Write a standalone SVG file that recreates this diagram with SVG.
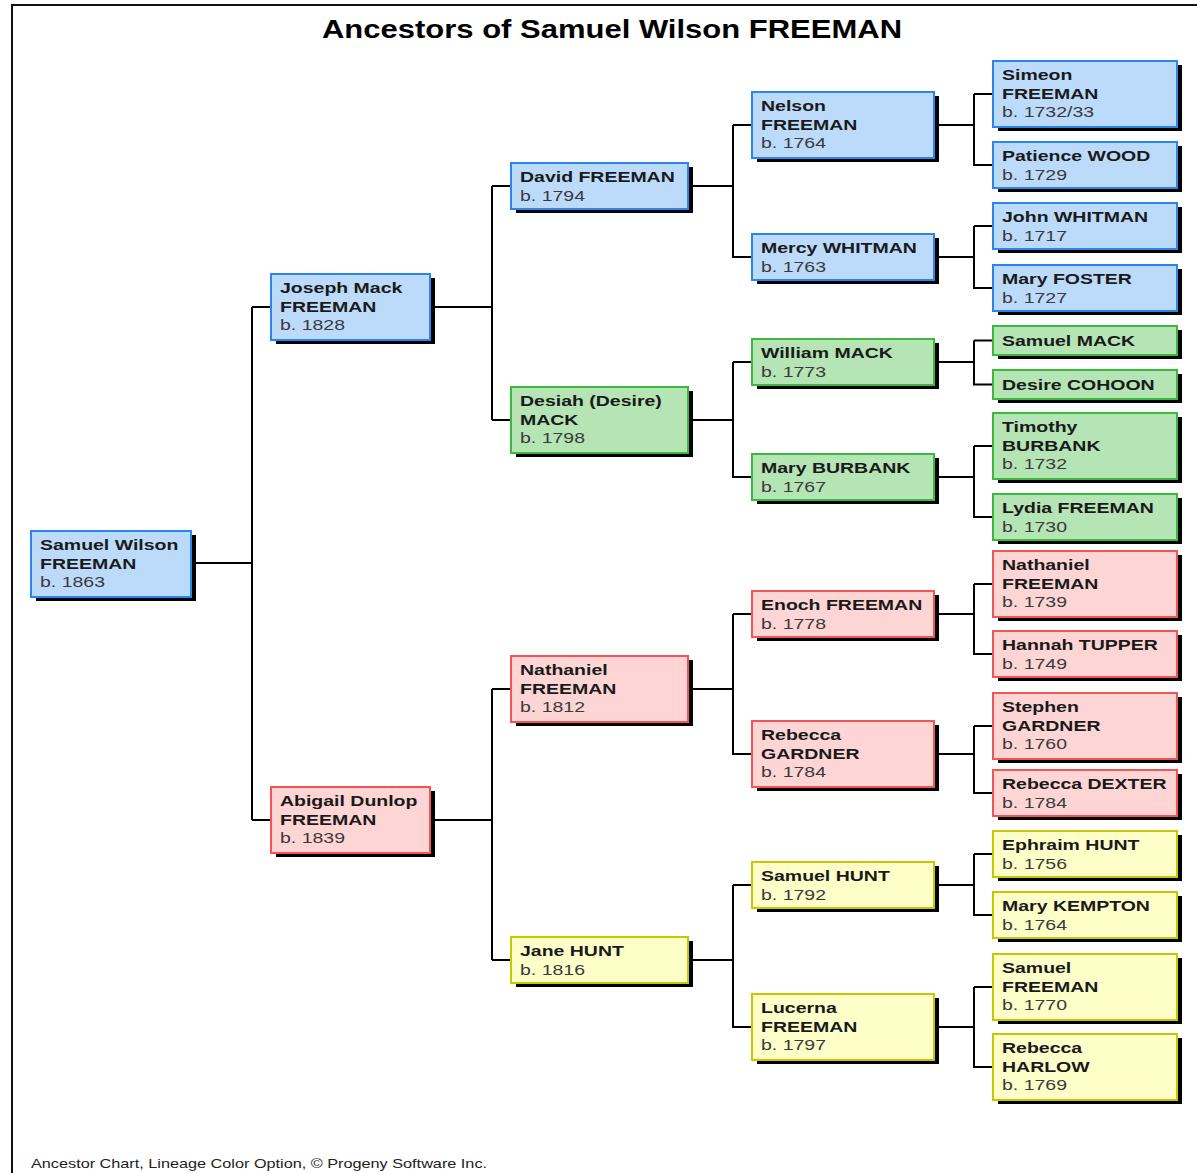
<svg xmlns="http://www.w3.org/2000/svg" width="1197" height="1173" viewBox="0 0 1197 1173">
<style>
.sh{fill:#000}
.b{fill:#bcdbfa;stroke:#2a86ee;stroke-width:2}
.g{fill:#b5e4b5;stroke:#3cb83c;stroke-width:2}
.r{fill:#fdd5d5;stroke:#f25555;stroke-width:2}
.y{fill:#fefec9;stroke:#c8c800;stroke-width:2}
text{font-family:"Liberation Sans",Arial,sans-serif;font-size:15px}
.n{font-weight:bold;fill:#1a1a1a}
.d{fill:#3a3a3a}
.con{fill:none;stroke:#000;stroke-width:2}
</style>
<rect x="0" y="0" width="1197" height="1173" fill="#fff"/>
<path d="M12 1173 V5 H1197" fill="none" stroke="#111" stroke-width="2"/>
<text id="title" transform="translate(612,38) scale(1.24,1)" text-anchor="middle" style="font-size:25px;font-weight:bold;fill:#000">Ancestors of Samuel Wilson FREEMAN</text>
<text id="footer" transform="translate(31,1168) scale(1.25,1)" style="font-size:13px;fill:#222">Ancestor Chart, Lineage Color Option, © Progeny Software Inc.</text>
<g id="connectors" class="con">
<path d="M191 563 H252 M252 307 V820 M252 307 H271 M252 820 H271"/>
<path d="M430 307 H492 M492 186 V420 M492 186 H511 M492 420 H511"/>
<path d="M430 820 H492 M492 689 V960 M492 689 H511 M492 960 H511"/>
<path d="M688 186 H733 M733 125 V257 H752 M733 125 H752"/>
<path d="M688 420 H733 M733 362 V477 H752 M733 362 H752"/>
<path d="M688 689 H733 M733 614 V754 H752 M733 614 H752"/>
<path d="M688 960 H733 M733 885 V1027 H752 M733 885 H752"/>
<path d="M934 125 H974 M974 94 V165 H993 M974 94 H993"/>
<path d="M934 257 H974 M974 226 V288 H993 M974 226 H993"/>
<path d="M934 362 H974 M974 340.5 V384.5 H993 M974 340.5 H993"/>
<path d="M934 477 H974 M974 446 V517 H993 M974 446 H993"/>
<path d="M934 614 H974 M974 584 V654 H993 M974 584 H993"/>
<path d="M934 754 H974 M974 726 V793 H993 M974 726 H993"/>
<path d="M934 885 H974 M974 854 V915 H993 M974 854 H993"/>
<path d="M934 1027 H974 M974 987 V1067 H993 M974 987 H993"/>
</g>
<g id="n-samuel-wilson"><rect class="sh" x="36" y="535" width="160" height="66"/><rect class="b" x="31" y="531" width="160" height="66"/><text transform="translate(40,550) scale(1.3,1)"><tspan class="n" x="0">Samuel Wilson</tspan><tspan class="n" x="0" dy="18.7">FREEMAN</tspan><tspan class="d" x="0" dy="18.7">b. 1863</tspan></text></g>
<g id="n-joseph"><rect class="sh" x="276" y="278" width="159" height="66"/><rect class="b" x="271" y="274" width="159" height="66"/><text transform="translate(280,293) scale(1.3,1)"><tspan class="n" x="0">Joseph Mack</tspan><tspan class="n" x="0" dy="18.7">FREEMAN</tspan><tspan class="d" x="0" dy="18.7">b. 1828</tspan></text></g>
<g id="n-abigail"><rect class="sh" x="276" y="791" width="159" height="66"/><rect class="r" x="271" y="787" width="159" height="66"/><text transform="translate(280,806) scale(1.3,1)"><tspan class="n" x="0">Abigail Dunlop</tspan><tspan class="n" x="0" dy="18.7">FREEMAN</tspan><tspan class="d" x="0" dy="18.7">b. 1839</tspan></text></g>
<g id="n-david"><rect class="sh" x="516" y="167" width="177" height="46"/><rect class="b" x="511" y="163" width="177" height="46"/><text transform="translate(520,182) scale(1.3,1)"><tspan class="n" x="0">David FREEMAN</tspan><tspan class="d" x="0" dy="18.7">b. 1794</tspan></text></g>
<g id="n-desiah"><rect class="sh" x="516" y="391" width="177" height="66"/><rect class="g" x="511" y="387" width="177" height="66"/><text transform="translate(520,406) scale(1.3,1)"><tspan class="n" x="0">Desiah (Desire)</tspan><tspan class="n" x="0" dy="18.7">MACK</tspan><tspan class="d" x="0" dy="18.7">b. 1798</tspan></text></g>
<g id="n-nathaniel-1812"><rect class="sh" x="516" y="660" width="177" height="66"/><rect class="r" x="511" y="656" width="177" height="66"/><text transform="translate(520,675) scale(1.3,1)"><tspan class="n" x="0">Nathaniel</tspan><tspan class="n" x="0" dy="18.7">FREEMAN</tspan><tspan class="d" x="0" dy="18.7">b. 1812</tspan></text></g>
<g id="n-jane"><rect class="sh" x="516" y="941" width="177" height="46"/><rect class="y" x="511" y="937" width="177" height="46"/><text transform="translate(520,956) scale(1.3,1)"><tspan class="n" x="0">Jane HUNT</tspan><tspan class="d" x="0" dy="18.7">b. 1816</tspan></text></g>
<g id="n-nelson"><rect class="sh" x="757" y="96" width="182" height="66"/><rect class="b" x="752" y="92" width="182" height="66"/><text transform="translate(761,111) scale(1.3,1)"><tspan class="n" x="0">Nelson</tspan><tspan class="n" x="0" dy="18.7">FREEMAN</tspan><tspan class="d" x="0" dy="18.7">b. 1764</tspan></text></g>
<g id="n-mercy"><rect class="sh" x="757" y="238" width="182" height="46"/><rect class="b" x="752" y="234" width="182" height="46"/><text transform="translate(761,253) scale(1.3,1)"><tspan class="n" x="0">Mercy WHITMAN</tspan><tspan class="d" x="0" dy="18.7">b. 1763</tspan></text></g>
<g id="n-william"><rect class="sh" x="757" y="343" width="182" height="46"/><rect class="g" x="752" y="339" width="182" height="46"/><text transform="translate(761,358) scale(1.3,1)"><tspan class="n" x="0">William MACK</tspan><tspan class="d" x="0" dy="18.7">b. 1773</tspan></text></g>
<g id="n-mary-burbank"><rect class="sh" x="757" y="458" width="182" height="46"/><rect class="g" x="752" y="454" width="182" height="46"/><text transform="translate(761,473) scale(1.3,1)"><tspan class="n" x="0">Mary BURBANK</tspan><tspan class="d" x="0" dy="18.7">b. 1767</tspan></text></g>
<g id="n-enoch"><rect class="sh" x="757" y="595" width="182" height="46"/><rect class="r" x="752" y="591" width="182" height="46"/><text transform="translate(761,610) scale(1.3,1)"><tspan class="n" x="0">Enoch FREEMAN</tspan><tspan class="d" x="0" dy="18.7">b. 1778</tspan></text></g>
<g id="n-rebecca-gardner"><rect class="sh" x="757" y="725" width="182" height="66"/><rect class="r" x="752" y="721" width="182" height="66"/><text transform="translate(761,740) scale(1.3,1)"><tspan class="n" x="0">Rebecca</tspan><tspan class="n" x="0" dy="18.7">GARDNER</tspan><tspan class="d" x="0" dy="18.7">b. 1784</tspan></text></g>
<g id="n-samuel-hunt"><rect class="sh" x="757" y="866" width="182" height="46"/><rect class="y" x="752" y="862" width="182" height="46"/><text transform="translate(761,881) scale(1.3,1)"><tspan class="n" x="0">Samuel HUNT</tspan><tspan class="d" x="0" dy="18.7">b. 1792</tspan></text></g>
<g id="n-lucerna"><rect class="sh" x="757" y="998" width="182" height="66"/><rect class="y" x="752" y="994" width="182" height="66"/><text transform="translate(761,1013) scale(1.3,1)"><tspan class="n" x="0">Lucerna</tspan><tspan class="n" x="0" dy="18.7">FREEMAN</tspan><tspan class="d" x="0" dy="18.7">b. 1797</tspan></text></g>
<g id="n-simeon"><rect class="sh" x="998" y="65" width="184" height="66"/><rect class="b" x="993" y="61" width="184" height="66"/><text transform="translate(1002,80) scale(1.3,1)"><tspan class="n" x="0">Simeon</tspan><tspan class="n" x="0" dy="18.7">FREEMAN</tspan><tspan class="d" x="0" dy="18.7">b. 1732/33</tspan></text></g>
<g id="n-patience"><rect class="sh" x="998" y="146" width="184" height="46"/><rect class="b" x="993" y="142" width="184" height="46"/><text transform="translate(1002,161) scale(1.3,1)"><tspan class="n" x="0">Patience WOOD</tspan><tspan class="d" x="0" dy="18.7">b. 1729</tspan></text></g>
<g id="n-john-whitman"><rect class="sh" x="998" y="207" width="184" height="46"/><rect class="b" x="993" y="203" width="184" height="46"/><text transform="translate(1002,222) scale(1.3,1)"><tspan class="n" x="0">John WHITMAN</tspan><tspan class="d" x="0" dy="18.7">b. 1717</tspan></text></g>
<g id="n-mary-foster"><rect class="sh" x="998" y="269" width="184" height="46"/><rect class="b" x="993" y="265" width="184" height="46"/><text transform="translate(1002,284) scale(1.3,1)"><tspan class="n" x="0">Mary FOSTER</tspan><tspan class="d" x="0" dy="18.7">b. 1727</tspan></text></g>
<g id="n-samuel-mack"><rect class="sh" x="998" y="330" width="184" height="29"/><rect class="g" x="993" y="326" width="184" height="29"/><text transform="translate(1002,346) scale(1.3,1)"><tspan class="n" x="0">Samuel MACK</tspan></text></g>
<g id="n-desire-cohoon"><rect class="sh" x="998" y="374" width="184" height="29"/><rect class="g" x="993" y="370" width="184" height="29"/><text transform="translate(1002,390) scale(1.3,1)"><tspan class="n" x="0">Desire COHOON</tspan></text></g>
<g id="n-timothy"><rect class="sh" x="998" y="417" width="184" height="66"/><rect class="g" x="993" y="413" width="184" height="66"/><text transform="translate(1002,432) scale(1.3,1)"><tspan class="n" x="0">Timothy</tspan><tspan class="n" x="0" dy="18.7">BURBANK</tspan><tspan class="d" x="0" dy="18.7">b. 1732</tspan></text></g>
<g id="n-lydia"><rect class="sh" x="998" y="498" width="184" height="46"/><rect class="g" x="993" y="494" width="184" height="46"/><text transform="translate(1002,513) scale(1.3,1)"><tspan class="n" x="0">Lydia FREEMAN</tspan><tspan class="d" x="0" dy="18.7">b. 1730</tspan></text></g>
<g id="n-nathaniel-1739"><rect class="sh" x="998" y="555" width="184" height="66"/><rect class="r" x="993" y="551" width="184" height="66"/><text transform="translate(1002,570) scale(1.3,1)"><tspan class="n" x="0">Nathaniel</tspan><tspan class="n" x="0" dy="18.7">FREEMAN</tspan><tspan class="d" x="0" dy="18.7">b. 1739</tspan></text></g>
<g id="n-hannah"><rect class="sh" x="998" y="635" width="184" height="46"/><rect class="r" x="993" y="631" width="184" height="46"/><text transform="translate(1002,650) scale(1.3,1)"><tspan class="n" x="0">Hannah TUPPER</tspan><tspan class="d" x="0" dy="18.7">b. 1749</tspan></text></g>
<g id="n-stephen"><rect class="sh" x="998" y="697" width="184" height="66"/><rect class="r" x="993" y="693" width="184" height="66"/><text transform="translate(1002,712) scale(1.3,1)"><tspan class="n" x="0">Stephen</tspan><tspan class="n" x="0" dy="18.7">GARDNER</tspan><tspan class="d" x="0" dy="18.7">b. 1760</tspan></text></g>
<g id="n-rebecca-dexter"><rect class="sh" x="998" y="774" width="184" height="46"/><rect class="r" x="993" y="770" width="184" height="46"/><text transform="translate(1002,789) scale(1.3,1)"><tspan class="n" x="0">Rebecca DEXTER</tspan><tspan class="d" x="0" dy="18.7">b. 1784</tspan></text></g>
<g id="n-ephraim"><rect class="sh" x="998" y="835" width="184" height="46"/><rect class="y" x="993" y="831" width="184" height="46"/><text transform="translate(1002,850) scale(1.3,1)"><tspan class="n" x="0">Ephraim HUNT</tspan><tspan class="d" x="0" dy="18.7">b. 1756</tspan></text></g>
<g id="n-mary-kempton"><rect class="sh" x="998" y="896" width="184" height="46"/><rect class="y" x="993" y="892" width="184" height="46"/><text transform="translate(1002,911) scale(1.3,1)"><tspan class="n" x="0">Mary KEMPTON</tspan><tspan class="d" x="0" dy="18.7">b. 1764</tspan></text></g>
<g id="n-samuel-freeman"><rect class="sh" x="998" y="958" width="184" height="66"/><rect class="y" x="993" y="954" width="184" height="66"/><text transform="translate(1002,973) scale(1.3,1)"><tspan class="n" x="0">Samuel</tspan><tspan class="n" x="0" dy="18.7">FREEMAN</tspan><tspan class="d" x="0" dy="18.7">b. 1770</tspan></text></g>
<g id="n-rebecca-harlow"><rect class="sh" x="998" y="1038" width="184" height="66"/><rect class="y" x="993" y="1034" width="184" height="66"/><text transform="translate(1002,1053) scale(1.3,1)"><tspan class="n" x="0">Rebecca</tspan><tspan class="n" x="0" dy="18.7">HARLOW</tspan><tspan class="d" x="0" dy="18.7">b. 1769</tspan></text></g>
</svg>
